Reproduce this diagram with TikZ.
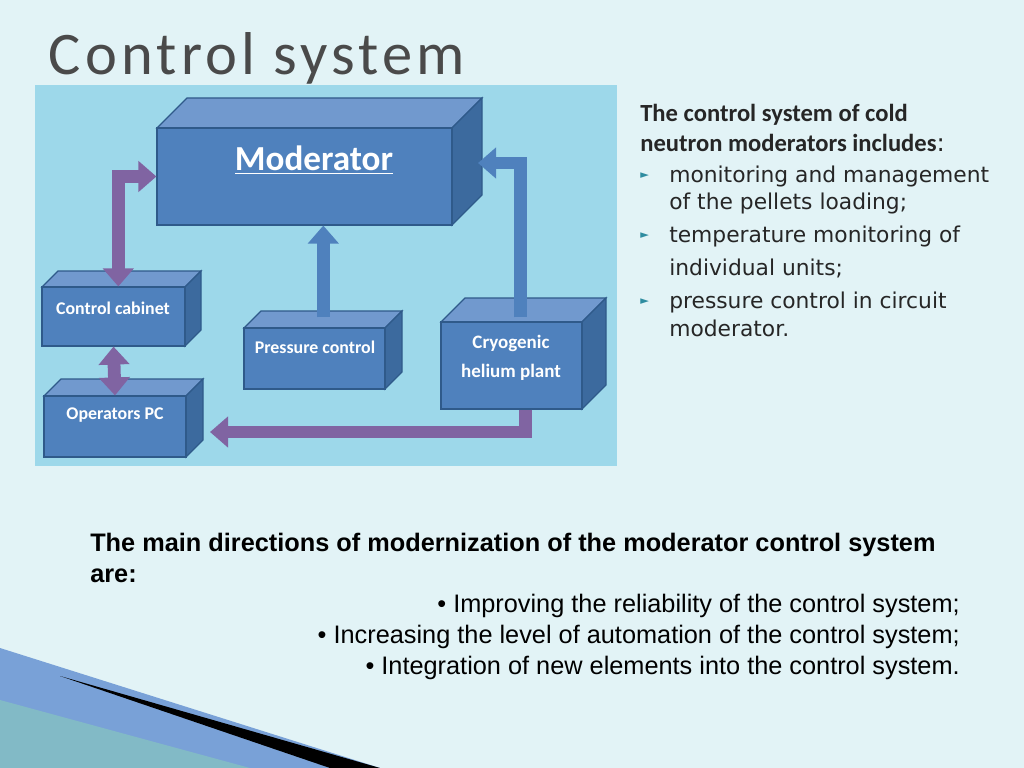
\documentclass[tikz,border=0pt]{standalone}
\usepackage{fontspec}
\setmainfont{Carlito}
\newfontfamily\dejavu{DejaVu Sans}
\newfontfamily\arialfont{Liberation Sans}
\usetikzlibrary{positioning,calc,arrows.meta}
\definecolor{slidebg}{HTML}{E2F3F6}
\definecolor{panelbg}{HTML}{9DD8EA}
\definecolor{boxfront}{HTML}{4F81BD}
\definecolor{boxtop}{HTML}{7199CE}
\definecolor{boxside}{HTML}{3C6A9E}
\definecolor{boxline}{HTML}{2F5A8A}
\definecolor{flowpurple}{HTML}{8064A2}
\definecolor{titlegray}{HTML}{4A4A4A}
\definecolor{bulletteal}{HTML}{2E8CA0}
\tikzset{
  front/.style={fill=boxfront,draw=boxline,thick,text=white,inner sep=0pt,align=center},
  boxlabel/.style={text=white,font=\bfseries\fontsize{12.7}{15}\selectfont,align=center},
  fatpurple/.style={line width=0.32cm,flowpurple,{Triangle[width=0.75cm,length=0.45cm]}-{Triangle[width=0.75cm,length=0.45cm]}},
  fatone/.style={line width=0.32cm,#1,-{Triangle[width=0.75cm,length=0.45cm]}},
  bulletline/.style={anchor=west,font=\dejavu\fontsize{15.5}{18}\selectfont,text=black!85,inner sep=0pt}
}
% a box with its top and side faces
\newcommand{\cube}[6]{% name, x1, y1, x2, y2, depth
  \fill[boxtop,draw=boxline,thick] (#2,#3) -- ++(#6,-#6) -- (#4+#6,#3-#6) -- (#4,#3) -- cycle;
  \fill[boxside,draw=boxline,thick] (#4,#3) -- (#4+#6,#3-#6) -- (#4+#6,#5-#6) -- (#4,#5) -- cycle;
  \node[front,minimum width={(#4-#2)*0.025cm},minimum height={(#5-#3)*0.025cm}] (#1) at ({(#2+#4)/2},{(#3+#5)/2}) {};
}
\begin{document}
\begin{tikzpicture}[x=0.025cm,y=-0.025cm]
  \fill[slidebg] (0,0) rectangle (1024,768);
  \useasboundingbox (0,0) rectangle (1024,768);
  % corner wedge
  \fill[bulletteal!70!blue!60] (0,648) -- (380,768) -- (0,768) -- cycle;
  \fill[black] (60,676) -- (380,768) -- (330,768) -- cycle;
  \fill[bulletteal!60!white] (0,700) -- (250,768) -- (0,768) -- cycle;
  % title
  \node (title) [anchor=west,text=titlegray,font=\addfontfeature{LetterSpace=7}\fontsize{43}{48}\selectfont] at (44,58) {Control system};
  % diagram panel
  \fill[panelbg] (35,85) rectangle (617,466);
  \cube{mod}{157}{128}{452}{225}{30}
  \cube{cab}{42}{287}{185}{346}{16}
  \cube{pc}{44}{396}{186}{457}{17}
  \cube{press}{244}{328}{385}{389}{17}
  \cube{cryo}{441}{322}{582}{409}{24}
  \node (modlabel) [text=white,font=\bfseries\fontsize{25}{30}\selectfont] at (314,160) {\underline{Moderator}};
  \node (cablabel) [boxlabel] at (113,308) {Control cabinet};
  \node (pclabel) [boxlabel] at (115,415) {Operators PC};
  \node (presslabel) [boxlabel] at (315,347) {Pressure control};
  \node (cryolabel) [boxlabel,font=\bfseries\fontsize{13.5}{16}\selectfont] at (511,358) {Cryogenic\\[5pt]helium plant};
  \coordinate (modside) at (478,163);
  \coordinate (pcside) at (210,432);
  % connectors
  \draw[fatpurple] ([xshift=0.12cm]cab.north) |- (mod.west);
  \draw[fatpurple] (cab.south) -- (pc.north);
  \draw[fatone=boxfront] ([xshift=0.22cm,yshift=0.25cm]press.north) -- ([xshift=0.22cm]press.north |- mod.south);
  \draw[fatone=boxfront] ([xshift=0.22cm,yshift=0.1cm]cryo.north) |- (modside);
  \draw[fatone=flowpurple] ([xshift=0.35cm]cryo.south) |- (pcside);
  % right text
  \node (intro) [anchor=north west,align=left,font=\fontsize{17.5}{21}\selectfont,text=black!85,inner sep=0pt] at (640,104) {\textbf{The control system of cold}\\\textbf{neutron moderators includes}{\dejavu:}};
  \foreach \y/\t in {176/monitoring and management, 236/temperature monitoring of, 302/pressure control in circuit}
    \node[bulletline] at (669,\y) {\t};
  \foreach \y/\t in {203/of the pellets loading;, 268/individual units;, 328/moderator.}
    \node[bulletline] at (669,\y) {\t};
  \foreach \y in {176,236,302}
    \node[anchor=west,text=bulletteal,font=\dejavu\fontsize{8}{8}\selectfont,inner sep=0pt] at (640,\y) {►};
  % bottom text
  \node (mainhead) [anchor=north west,align=left,font=\arialfont\bfseries\fontsize{18}{22}\selectfont,inner sep=0pt] at (90,533) {The main directions of modernization of the moderator control system\\are:};
  \node (dir) [anchor=north east,align=right,font=\arialfont\fontsize{18}{22}\selectfont,inner sep=0pt] at (960,594) {• Improving the reliability of the control system;\\• Increasing the level of automation of the control system;\\• Integration of new elements into the control system.};
\end{tikzpicture}
\end{document}
